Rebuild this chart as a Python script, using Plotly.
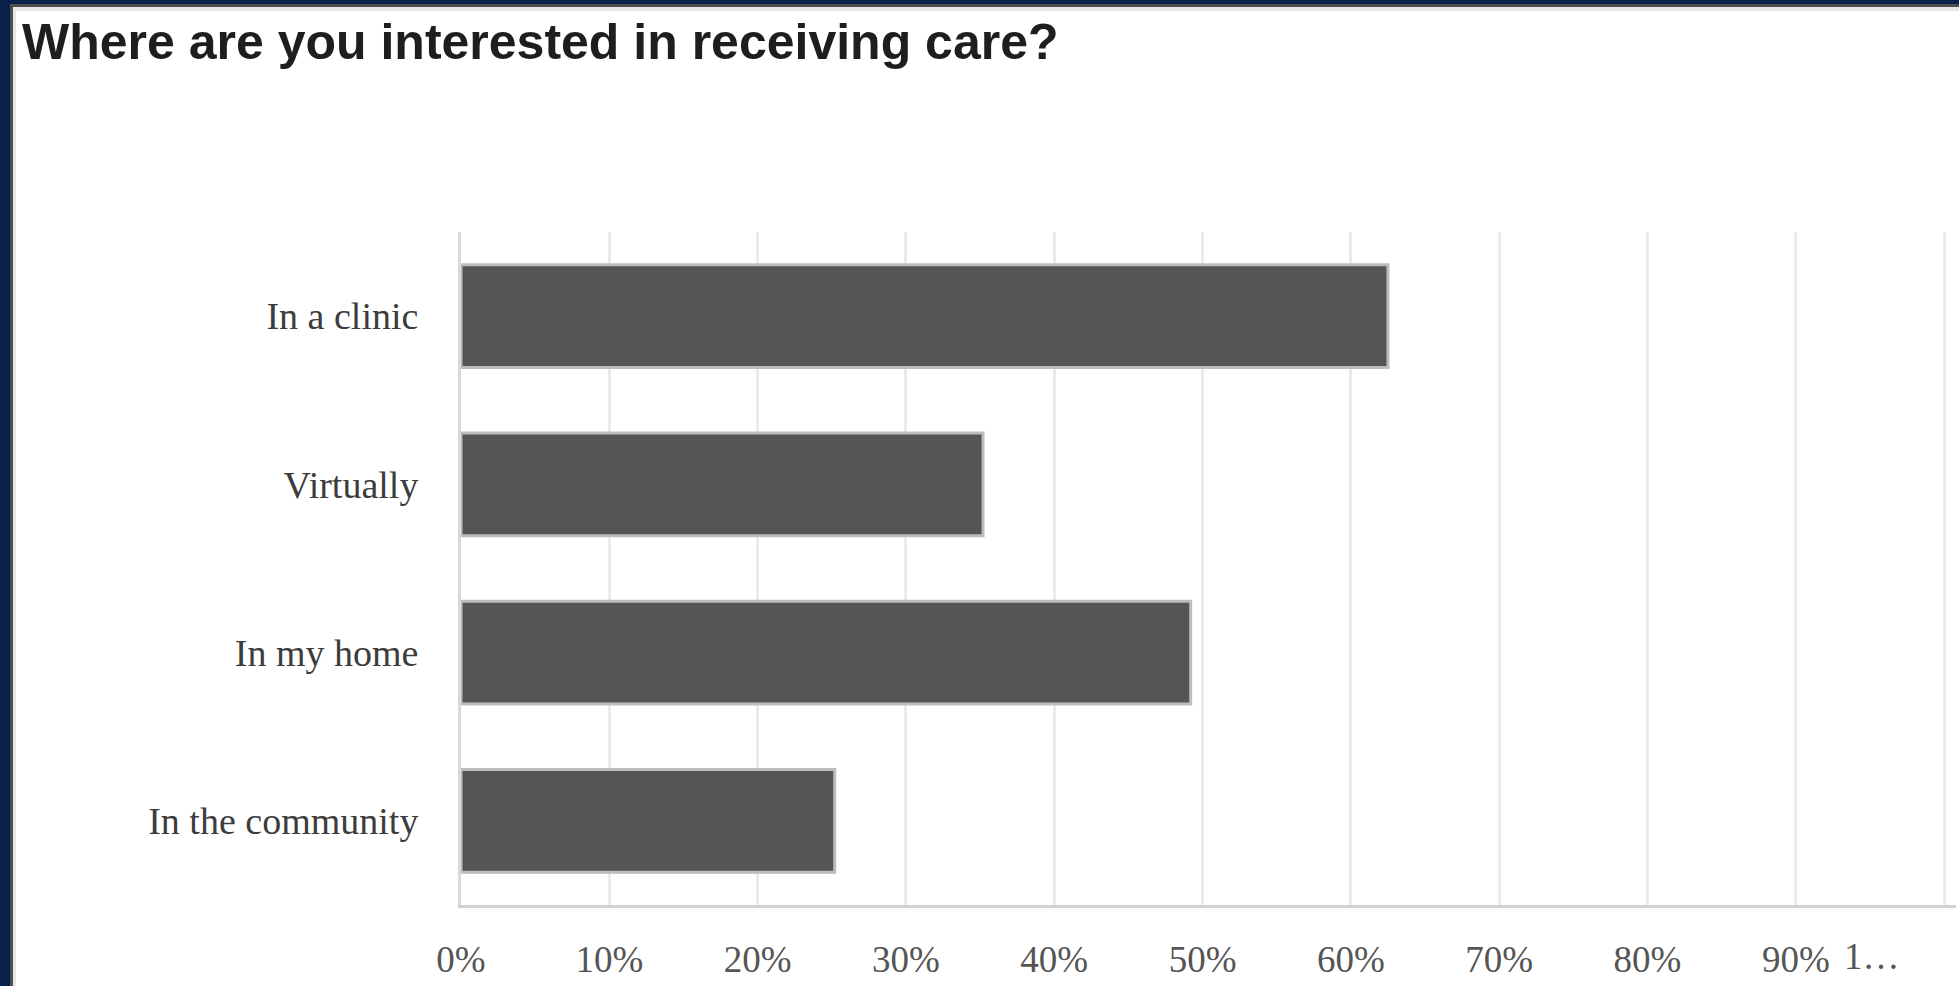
import plotly.graph_objects as go

categories = ["In a clinic", "Virtually", "In my home", "In the community"]
shares = [0.625, 0.352, 0.492, 0.252]
tick_vals = [0, 0.1, 0.2, 0.3, 0.4, 0.5, 0.6, 0.7, 0.8, 0.9, 1.0]
tick_text = ["0%", "10%", "20%", "30%", "40%", "50%", "60%", "70%", "80%", "90%", ""]
last_tick_text = "1…"
title_text = "Where are you interested in receiving care?"

W, H = 1959, 986
L, R, T, B = 461, 1956, 232, 905


def px_x(p):
    return (p - L) / (R - L)


def px_y(p):
    return (H - p - (H - B)) / (B - T)


fig = go.Figure()
fig.add_trace(go.Bar(
    x=shares, y=categories, orientation="h",
    marker=dict(color="#555555", line=dict(color="#bdbdbd", width=3)),
    hoverinfo="skip",
))

shapes = []
shapes.append(dict(type="rect", xref="paper", yref="paper", x0=px_x(0), x1=px_x(10), y0=px_y(H), y1=px_y(0),
                   fillcolor="#08204a", line=dict(width=0), layer="above"))
shapes.append(dict(type="rect", xref="paper", yref="paper", x0=px_x(0), x1=px_x(W), y0=px_y(4), y1=px_y(0),
                   fillcolor="#08204a", line=dict(width=0), layer="above"))
shapes.append(dict(type="rect", xref="paper", yref="paper", x0=px_x(10), x1=px_x(13), y0=px_y(H), y1=px_y(4),
                   fillcolor="#4d4d4d", line=dict(width=0), layer="above"))
shapes.append(dict(type="rect", xref="paper", yref="paper", x0=px_x(10), x1=px_x(W), y0=px_y(7), y1=px_y(4),
                   fillcolor="#4d4d4d", line=dict(width=0), layer="above"))
shapes.append(dict(type="rect", xref="paper", yref="paper", x0=px_x(13), x1=px_x(16), y0=px_y(H), y1=px_y(7),
                   fillcolor="#e6e6e6", line=dict(width=0), layer="above"))
shapes.append(dict(type="rect", xref="paper", yref="paper", x0=px_x(13), x1=px_x(W), y0=px_y(11), y1=px_y(7),
                   fillcolor="#e6e6e6", line=dict(width=0), layer="above"))

fig.update_layout(
    width=W, height=H,
    margin=dict(l=L, r=W - R, t=T, b=H - B, pad=0),
    paper_bgcolor="white", plot_bgcolor="white",
    showlegend=False,
    bargap=0.39,
    shapes=shapes,
    annotations=[
        dict(
            text=title_text, xref="paper", yref="paper",
            x=px_x(20), y=px_y(42), xanchor="left", yanchor="middle",
            showarrow=False,
            font=dict(family="Liberation Sans", size=50, color="#1e1e1e", weight="bold"),
        ),
        dict(
            text=last_tick_text, xref="x", yref="paper",
            x=tick_vals[-1], y=px_y(956), xanchor="right", yanchor="middle",
            xshift=-42, showarrow=False,
            font=dict(family="Liberation Serif", size=37, color="#555555"),
        ),
    ],
    xaxis=dict(
        range=[0, 1.008], tickvals=tick_vals, ticktext=tick_text,
        showgrid=True, gridcolor="#ebebeb", gridwidth=3,
        zeroline=False,
        showline=True, linecolor="#d2d2d2", linewidth=3,
        ticks="outside", ticklen=20, tickcolor="rgba(0,0,0,0)",
        tickfont=dict(family="Liberation Serif", size=37, color="#555555"),
        fixedrange=True,
    ),
    yaxis=dict(
        autorange="reversed",
        showgrid=False, zeroline=False,
        showline=True, linecolor="#d9d9d9", linewidth=3,
        ticks="outside", ticklen=32, tickcolor="rgba(0,0,0,0)",
        tickfont=dict(family="Liberation Serif", size=38, color="#3c3c3c"),
        fixedrange=True,
    ),
)

fig.write_html("out.html", config={"displayModeBar": False})
